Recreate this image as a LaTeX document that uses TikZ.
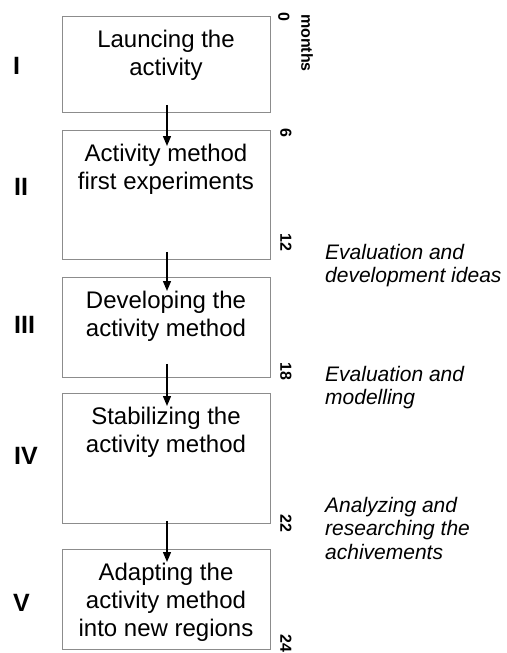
\documentclass[tikz,border=0pt]{standalone}
\usepackage{fontspec}
\setmainfont{Liberation Sans}
\usetikzlibrary{arrows.meta}
\begin{document}
\begin{tikzpicture}[x=1pt,y=-1pt,
  box/.style={draw=black!45, line width=0.9pt, minimum width=208pt, inner sep=0pt, anchor=north},
  boxtext/.style={font=\fontsize{24}{28}\selectfont, align=center, anchor=north, inner sep=0pt},
  roman/.style={font=\fontsize{25}{30}\selectfont\bfseries, anchor=west, inner sep=0pt},
  tick/.style={font=\fontsize{16}{18}\selectfont\bfseries, rotate=-90, inner sep=0pt},
  note/.style={font=\fontsize{21}{23.5}\selectfont\itshape, align=left, anchor=north west, inner sep=0pt},
  flow/.style={line width=1.3pt, -{Triangle[length=10pt,width=8pt]}}
]
\useasboundingbox (0,0) rectangle (506,653);
% boxes
\node[box, minimum height=96pt] (b1) at (166,16) {};
\node[box, minimum height=129pt] (b2) at (166,130) {};
\node[box, minimum height=100pt] (b3) at (166,277) {};
\node[box, minimum height=130pt] (b4) at (166,393) {};
\node[box, minimum height=100pt] (b5) at (166,549) {};
% box texts
\node[boxtext] (t1) at ([yshift=-14pt]b1.north) {Launcing the\\activity};
\node[boxtext] (t2) at ([yshift=-14pt]b2.north) {Activity method\\first experiments};
\node[boxtext] (t3) at ([yshift=-14pt]b3.north) {Developing the\\activity method};
\node[boxtext] (t4) at ([yshift=-14pt]b4.north) {Stabilizing the\\activity method};
\node[boxtext] (t5) at ([yshift=-14pt]b5.north) {Adapting the\\activity method\\into new regions};
% arrows
\draw[flow] ([xshift=1pt,yshift=8pt]b1.south) -- ([xshift=1pt,yshift=-16pt]b2.north);
\draw[flow] ([xshift=1pt,yshift=8pt]b2.south) -- ([xshift=1pt,yshift=-14pt]b3.north);
\draw[flow] ([xshift=1pt,yshift=14pt]b3.south) -- ([xshift=1pt,yshift=-13pt]b4.north);
\draw[flow] ([xshift=1pt,yshift=3pt]b4.south) -- ([xshift=1pt,yshift=-13pt]b5.north);
% roman numerals
\node[roman] (r1) at (13,66) {I};
\node[roman] (r2) at (14,187) {II};
\node[roman] (r3) at (14,325) {III};
\node[roman] (r4) at (14,456) {IV};
\node[roman] (r5) at (13,603) {V};
% month ticks
\node[tick] (m0) at (284,17) {0};
\node[tick] (mo) at (307,43) {months};
\node[tick] (m6) at (286,133) {6};
\node[tick] (m12) at (286,242) {12};
\node[tick] (m18) at (286,371) {18};
\node[tick] (m22) at (286,523) {22};
\node[tick] (m24) at (286,643) {24};
% notes
\node[note] (n1) at (325,244) {Evaluation and\\development ideas};
\node[note] (n2) at (325,366) {Evaluation and\\modelling};
\node[note] (n3) at (325,497) {Analyzing and\\researching the\\achivements};
\end{tikzpicture}
\end{document}
